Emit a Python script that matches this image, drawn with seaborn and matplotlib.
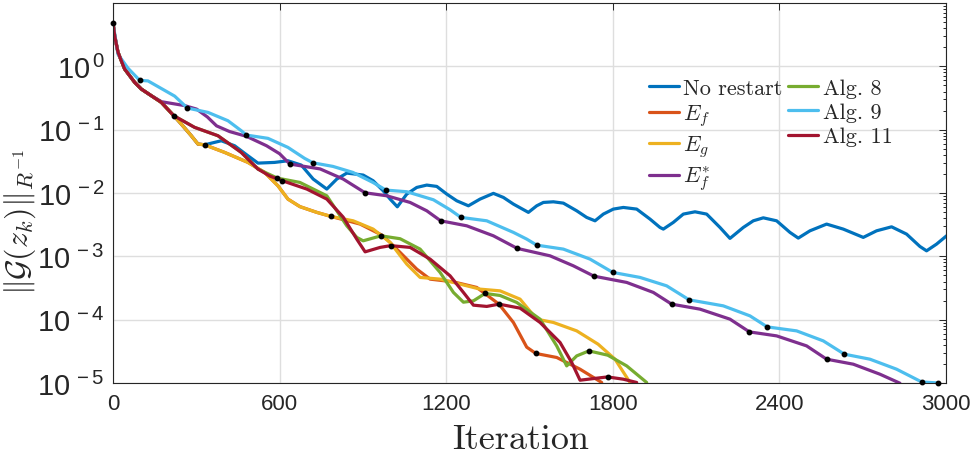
import numpy as np
import pandas as pd
import matplotlib
matplotlib.use("Agg")
import matplotlib.pyplot as plt
import seaborn as sns
from matplotlib.lines import Line2D
from matplotlib.ticker import LogLocator, FixedLocator, NullFormatter, FuncFormatter, FixedFormatter

# ---------------- data (iteration, log10 of ||G(z_k)||) ----------------
no_restart_it = [0, 6, 18, 42, 78, 102, 138, 174, 219, 246, 282, 306, 330, 390, 438, 486, 522,
                 582, 630, 678, 721, 770, 806, 842, 872, 901, 937, 973, 998, 1024, 1058, 1094, 1130,
                 1166, 1202, 1238, 1280, 1322, 1370, 1406, 1442, 1496, 1526, 1550, 1586, 1622, 1670,
                 1706, 1736, 1766, 1802, 1838, 1886, 1934, 1970, 1982, 2018, 2054, 2096, 2138, 2186,
                 2222, 2270, 2306, 2342, 2390, 2438, 2468, 2510, 2570, 2630, 2702, 2750, 2804, 2858,
                 2906, 2930, 2966, 3002]
no_restart_lg = [0.689, 0.483, 0.221, -0.043, -0.253, -0.359, -0.464, -0.569, -0.780, -0.912, -1.096,
                 -1.227, -1.239, -1.175, -1.254, -1.412, -1.528, -1.517, -1.491, -1.559, -1.780, -1.938,
                 -1.780, -1.686, -1.701, -1.717, -1.807, -1.965, -2.096, -2.218, -2.017, -1.912, -1.875,
                 -1.896, -2.017, -2.123, -2.202, -2.096, -2.006, -2.070, -2.175, -2.306, -2.202, -2.149,
                 -2.139, -2.160, -2.281, -2.386, -2.439, -2.333, -2.254, -2.228, -2.254, -2.412, -2.544,
                 -2.570, -2.464, -2.333, -2.297, -2.333, -2.544, -2.717, -2.544, -2.439, -2.392, -2.439,
                 -2.622, -2.712, -2.597, -2.491, -2.570, -2.701, -2.597, -2.534, -2.649, -2.844, -2.913,
                 -2.807, -2.676]

ef_it = [0, 6, 18, 42, 78, 102, 138, 174, 219, 246, 282, 306, 330, 402, 486, 546, 594, 630, 673, 734,
         785, 890, 973, 1034, 1094, 1142, 1226, 1310, 1390, 1442, 1490, 1523, 1598, 1682, 1760]
ef_lg = [0.689, 0.483, 0.221, -0.043, -0.253, -0.359, -0.464, -0.569, -0.780, -0.912, -1.096, -1.227,
         -1.239, -1.359, -1.517, -1.675, -1.886, -2.096, -2.215, -2.306, -2.370, -2.491, -2.676, -2.938,
         -3.202, -3.360, -3.403, -3.491, -3.755, -4.044, -4.434, -4.534, -4.597, -4.782, -4.992]

eg_it = [0, 6, 18, 42, 78, 102, 138, 174, 219, 246, 282, 306, 330, 402, 486, 546, 594, 630, 673, 734,
         785, 865, 937, 998, 1058, 1106, 1178, 1250, 1322, 1394, 1466, 1526, 1586, 1670, 1747, 1808, 1862]
eg_lg = [0.689, 0.483, 0.221, -0.043, -0.253, -0.359, -0.464, -0.569, -0.780, -0.912, -1.096, -1.227,
         -1.239, -1.359, -1.517, -1.675, -1.886, -2.096, -2.215, -2.306, -2.370, -2.439, -2.570, -2.780,
         -3.123, -3.333, -3.360, -3.439, -3.518, -3.545, -3.676, -3.992, -4.044, -4.177, -4.387, -4.624,
         -4.992]

efs_it = [0, 6, 18, 42, 78, 102, 138, 175, 258, 301, 340, 373, 420, 481, 553, 600, 637, 746, 829, 908,
          986, 1070, 1130, 1180, 1274, 1370, 1456, 1574, 1658, 1732, 1850, 1946, 2012, 2114, 2222, 2292,
          2390, 2498, 2570, 2666, 2762, 2834]
efs_lg = [0.689, 0.483, 0.221, -0.043, -0.253, -0.359, -0.464, -0.559, -0.62, -0.675, -0.80, -0.94,
          -1.03, -1.106, -1.254, -1.38, -1.543, -1.62, -1.78, -1.997, -2.044, -2.149, -2.281, -2.439,
          -2.518, -2.676, -2.875, -2.992, -3.150, -3.313, -3.412, -3.570, -3.755, -3.834, -3.992, -4.193,
          -4.256, -4.414, -4.624, -4.703, -4.861, -5.003]

alg8_it = [0, 6, 18, 42, 78, 102, 138, 174, 219, 294, 378, 462, 522, 592, 673, 770, 842, 878, 901, 965,
           1034, 1106, 1178, 1226, 1262, 1298, 1340, 1394, 1454, 1538, 1598, 1634, 1670, 1714, 1782, 1850,
           1922]
alg8_lg = [0.689, 0.483, 0.221, -0.043, -0.253, -0.359, -0.464, -0.569, -0.780, -0.964, -1.096, -1.359,
           -1.622, -1.765, -1.833, -2.044, -2.518, -2.701, -2.755, -2.676, -2.722, -2.886, -3.254, -3.570,
           -3.724, -3.703, -3.586, -3.618, -3.728, -3.992, -4.414, -4.730, -4.572, -4.493, -4.561, -4.730,
           -4.992]

alg9_it = [0, 18, 54, 96, 126, 162, 222, 268, 342, 414, 462, 480, 558, 630, 690, 720, 792, 864, 936, 983,
           1058, 1154, 1214, 1253, 1346, 1442, 1490, 1526, 1622, 1718, 1800, 1898, 1994, 2075, 2198, 2294,
           2356, 2462, 2558, 2634, 2726, 2822, 2912, 2972]
alg9_lg = [0.684, 0.19, -0.03, -0.221, -0.23, -0.32, -0.47, -0.659, -0.727, -0.859, -1.017, -1.085,
           -1.137, -1.280, -1.453, -1.523, -1.580, -1.675, -1.833, -1.954, -1.98, -2.107, -2.265, -2.385,
           -2.439, -2.622, -2.728, -2.823, -2.886, -3.044, -3.254, -3.333, -3.466, -3.687, -3.782, -3.940,
           -4.114, -4.177, -4.335, -4.545, -4.624, -4.782, -4.983, -5.0]

alg11_it = [0, 6, 18, 42, 78, 102, 138, 174, 219, 294, 378, 462, 522, 565, 610, 698, 770, 829, 878, 908,
            962, 1000, 1070, 1142, 1214, 1262, 1298, 1346, 1390, 1466, 1538, 1610, 1652, 1682, 1742, 1781,
            1838, 1886]
alg11_lg = [0.689, 0.483, 0.221, -0.043, -0.253, -0.359, -0.464, -0.569, -0.780, -0.964, -1.096, -1.359,
            -1.622, -1.733, -1.807, -1.938, -2.096, -2.381, -2.729, -2.929, -2.859, -2.831, -2.859, -3.044,
            -3.308, -3.570, -3.771, -3.791, -3.755, -3.818, -4.044, -4.360, -4.676, -4.956, -4.924, -4.904,
            -4.940, -4.992]

# restart markers (iteration, log10 value)
restart_it = [0, 96, 268, 480, 720, 983, 1253, 1526, 1800, 2075, 2356, 2634, 2912, 2972,
              637, 908, 1180, 1456, 1732, 2012, 2292, 2570,
              219, 330, 785, 592, 965, 1340, 1714, 610, 1000, 1390, 1781, 1523]
restart_lg = [0.689, -0.221, -0.659, -1.085, -1.523, -1.954, -2.385, -2.823, -3.254, -3.687, -4.114,
              -4.545, -4.983, -5.0,
              -1.543, -1.997, -2.439, -2.875, -3.313, -3.755, -4.193, -4.624,
              -0.780, -1.239, -2.370, -1.765, -2.676, -3.586, -4.493, -1.807, -2.831, -3.755, -4.904, -4.534]

labels = ["No restart", r"$E_f$", r"$E_g$", r"$E_f^{*}$", "Alg. 8", "Alg. 9", "Alg. 11"]
colors = ["#0072BD", "#D95319", "#EDB120", "#7E2F8E", "#77AC30", "#4DBEEE", "#A2142F"]
x_ticks = [0, 600, 1200, 1800, 2400, 3000]

# ---------------- style ----------------
sns.set_style("white")
plt.rcParams['font.family'] = ['Liberation Sans', 'DejaVu Sans']
plt.rcParams['mathtext.fontset'] = 'cm'
plt.rcParams['axes.unicode_minus'] = True

fig = plt.figure(figsize=(9.77, 4.60), dpi=100)
ax = fig.add_axes([113 / 977, 1 - 384 / 460, 833 / 977, 380 / 460])

series = [(no_restart_it, no_restart_lg), (ef_it, ef_lg), (eg_it, eg_lg), (efs_it, efs_lg),
          (alg8_it, alg8_lg), (alg9_it, alg9_lg), (alg11_it, alg11_lg)]
for (it, lg), c in zip(series, colors):
    df = pd.DataFrame({"it": it, "val": 10.0 ** np.asarray(lg)})
    sns.lineplot(data=df, x="it", y="val", ax=ax, color=c, lw=2.3, sort=False,
                 estimator=None, legend=False)
for ln in ax.get_lines():
    ln.set_solid_joinstyle('round')
    ln.set_solid_capstyle('round')

ax.plot(restart_it, 10.0 ** np.asarray(restart_lg), 'o', color='k', ms=3.2, zorder=6,
        clip_on=False)

ax.set_yscale('log')
ax.set_xlim(0, 3000)
ax.set_ylim(1e-5, 10)
ax.set_xticks(x_ticks)
ax.xaxis.set_major_formatter(FixedFormatter([str(t) for t in x_ticks]))
ax.yaxis.set_major_locator(FixedLocator([1e-5, 1e-4, 1e-3, 1e-2, 1e-1, 1e0]))
ax.yaxis.set_minor_locator(LogLocator(base=10, subs=np.arange(2, 10), numticks=20))
ax.yaxis.set_minor_formatter(NullFormatter())
ax.yaxis.set_major_formatter(FuncFormatter(
    lambda v, p: r"$\mathdefault{10^{\,%d}}$" % int(round(np.log10(v)))))

ax.grid(True, which='major', color='#dedede', lw=1.0)
ax.set_axisbelow(True)
ax.tick_params(which='both', direction='in', top=True, right=True, colors='#262626', width=0.7)
ax.tick_params(axis='x', labelsize=16, pad=7)
ax.tick_params(axis='y', labelsize=21, pad=6)
ax.tick_params(which='major', length=5)
ax.tick_params(which='minor', length=2.5)
for s in ax.spines.values():
    s.set_color('#262626')
    s.set_linewidth(0.8)

ax.set_xlabel("Iteration", family='cmr10', fontsize=26)
ax.xaxis.set_label_coords((521 - 113) / 833, (384 - 424) / 380)
ax.set_ylabel(r"$\|\mathcal{G}(z_k)\|_{R^{-1}}$", fontsize=23)
ax.yaxis.set_label_coords((38 - 113) / 833, (384 - 222) / 380)

handles = [Line2D([], [], color=c, lw=2.3) for c in colors]
leg = ax.legend(handles, labels, ncol=2, loc='upper left',
                bbox_to_anchor=(649 / 977, 1 - 79 / 460), bbox_transform=fig.transFigure,
                frameon=False, borderpad=0, borderaxespad=0, handlelength=1.35,
                handletextpad=0.2, columnspacing=0.25, labelspacing=0.22,
                prop={'family': 'cmr10', 'size': 16})

fig.savefig("out.png", dpi=100)
